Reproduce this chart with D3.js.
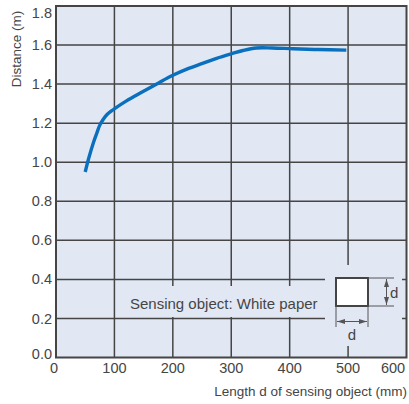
<!DOCTYPE html>
<html>
<head>
<meta charset="utf-8">
<script src="https://cdn.jsdelivr.net/npm/d3@7"></script>
<style>
  html, body { margin: 0; padding: 0; background: #fff; }
  svg { display: block; }
  text { font-family: "Liberation Sans", Arial, sans-serif; fill: #454545; }
</style>
</head>
<body>
<svg id="chart" width="409" height="404"></svg>
<script>
// Data
const lengthMM = [50, 56, 64, 70, 75, 81, 87, 95, 101, 120, 149, 175, 200, 225, 252, 275, 300, 320, 343, 370, 406, 450, 497];
const distanceM = [0.95, 1.02, 1.10, 1.15, 1.19, 1.22, 1.243, 1.263, 1.276, 1.313, 1.362, 1.405, 1.445, 1.478, 1.507, 1.532, 1.555, 1.572, 1.585, 1.585, 1.581, 1.577, 1.574];
const xTicks = [0, 100, 200, 300, 400, 500, 600];
const yTicks = [0.0, 0.2, 0.4, 0.6, 0.8, 1.0, 1.2, 1.4, 1.6, 1.8];
const xTitle = "Length d of sensing object (mm)";
const yTitle = "Distance (m)";
const noteText = "Sensing object: White paper";

const svg = d3.select("#chart");
const L = 56, R = 406.5, T = 6, B = 357.5;
const x = d3.scaleLinear().domain([0, 600]).range([L, R]);
const y = d3.scaleLinear().domain([0, 1.8]).range([B, T]);
const grid = "#454545";

svg.append("rect").attr("x", L).attr("y", T).attr("width", R - L).attr("height", B - T)
  .attr("fill", "#e1e8f4");

// gridlines
svg.append("g").selectAll("line").data(xTicks.slice(1, -1)).join("line")
  .attr("x1", d => x(d)).attr("x2", d => x(d)).attr("y1", T).attr("y2", B)
  .attr("stroke", grid).attr("stroke-width", 1.5);
svg.append("g").selectAll("line").data(yTicks.slice(1, -1)).join("line")
  .attr("y1", d => y(d)).attr("y2", d => y(d)).attr("x1", L).attr("x2", R)
  .attr("stroke", grid).attr("stroke-width", 1.5);

// note background covering gridlines
svg.append("rect").attr("x", 124).attr("y", 286).attr("width", 200).attr("height", 31)
  .attr("fill", "#e1e8f4");
svg.append("rect").attr("x", 325).attr("y", 265).attr("width", 77).attr("height", 81)
  .attr("fill", "#e1e8f4");

svg.append("text").attr("x", 130).attr("y", 309).attr("font-size", 15).text(noteText);

// inset diagram
const sq = {x: 336, y: 278, s: 32};
const dg = svg.append("g");
dg.append("rect").attr("x", sq.x).attr("y", sq.y).attr("width", sq.s).attr("height", sq.s - 4)
  .attr("fill", "#fff").attr("stroke", "#444").attr("stroke-width", 2);
function ln(x1, y1, x2, y2) {
  dg.append("line").attr("x1", x1).attr("y1", y1).attr("x2", x2).attr("y2", y2)
    .attr("stroke", "#555").attr("stroke-width", 1);
}
ln(sq.x + sq.s, sq.y, 394, sq.y);
ln(sq.x + sq.s, sq.y + sq.s - 4, 394, sq.y + sq.s - 4);
ln(386.5, sq.y + 1, 386.5, sq.y + sq.s - 5);
ln(sq.x, sq.y + sq.s - 4, sq.x, 327);
ln(sq.x + sq.s, sq.y + sq.s - 4, sq.x + sq.s, 327);
ln(sq.x + 1, 321.5, sq.x + sq.s - 1, 321.5);
const ah = (pts) => dg.append("path").attr("d", d3.line()(pts) + "Z").attr("fill", "#555");
ah([[386.5, sq.y + 1], [384, sq.y + 9], [389, sq.y + 9]]);
ah([[386.5, sq.y + sq.s - 5], [384, sq.y + sq.s - 13], [389, sq.y + sq.s - 13]]);
ah([[sq.x + 1, 321.5], [sq.x + 9, 319], [sq.x + 9, 324]]);
ah([[sq.x + sq.s - 1, 321.5], [sq.x + sq.s - 9, 319], [sq.x + sq.s - 9, 324]]);
dg.append("text").attr("x", 390).attr("y", 298).attr("font-size", 15).text("d");
dg.append("text").attr("x", sq.x + sq.s / 2).attr("y", 340).attr("font-size", 15)
  .attr("text-anchor", "middle").text("d");

// curve
svg.append("path").datum(lengthMM.map((d, i) => [d, distanceM[i]]))
  .attr("d", d3.line().x(d => x(d[0])).y(d => y(d[1])).curve(d3.curveCatmullRom.alpha(0.5)))
  .attr("fill", "none").attr("stroke", "#0a6fbd").attr("stroke-width", 3.4)
  .attr("stroke-linecap", "butt");

// frame
svg.append("rect").attr("x", L).attr("y", T).attr("width", R - L).attr("height", B - T)
  .attr("fill", "none").attr("stroke", "#454545").attr("stroke-width", 2);

// tick labels
svg.append("g").selectAll("text").data(yTicks).join("text")
  .attr("x", 52).attr("y", d => Math.max(y(d), 13) + (d === 0 ? -4 : 0))
  .attr("dy", "0.35em").attr("text-anchor", "end").attr("font-size", 14.5)
  .text(d => d.toFixed(1));
svg.append("g").selectAll("text").data(xTicks).join("text")
  .attr("x", d => Math.min(x(d), 393) - (d === 0 ? 2 : 0)).attr("y", 373)
  .attr("text-anchor", "middle").attr("font-size", 14.5)
  .text(d => d);

// titles
svg.append("text").attr("x", 407).attr("y", 396).attr("text-anchor", "end")
  .attr("font-size", 13.5).text(xTitle);
svg.append("text").attr("transform", "translate(21,49) rotate(-90)")
  .attr("text-anchor", "middle").attr("font-size", 13.5).text(yTitle);
</script>
</body>
</html>
